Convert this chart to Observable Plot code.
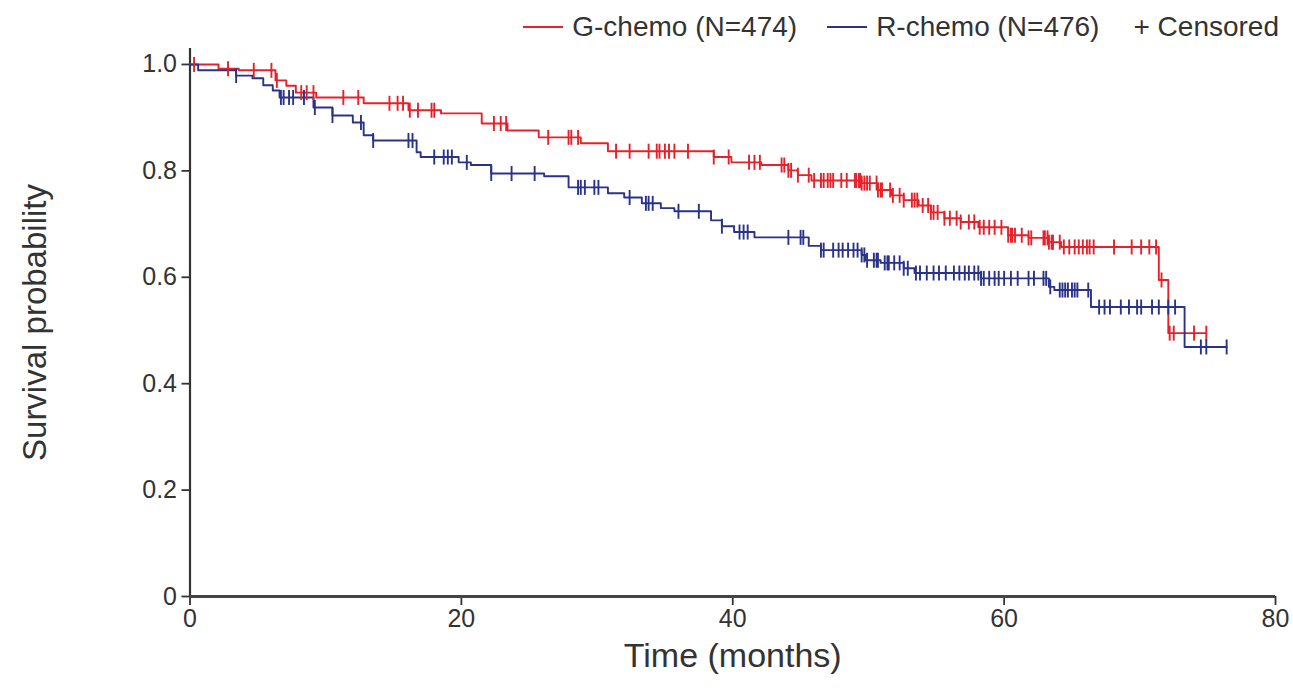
<!DOCTYPE html>
<html><head><meta charset="utf-8">
<script src="https://cdn.jsdelivr.net/npm/d3@7"></script>
<script src="https://cdn.jsdelivr.net/npm/@observablehq/plot@0.6"></script>
<style>
body{margin:0;background:#fff;font-family:"Liberation Sans",Arial,sans-serif;color:#333;}
#legend{height:45px;box-sizing:border-box;padding-top:8px;padding-right:14px;display:flex;justify-content:flex-end;align-items:center;font-size:28px;color:#333;white-space:nowrap;}
#legend .sw{display:inline-block;width:40px;height:2px;margin-right:9px;vertical-align:middle;}
#legend .item{margin-left:30px;display:flex;align-items:center;}
</style></head><body>
<div id="legend"></div>
<div id="chart"></div>
<script>
// G-chemo (red) Kaplan-Meier steps
const gStepT = [0, 2.1, 3.6, 6.3, 7.1, 7.8, 9.3, 12.8, 16.1, 18.5, 21.5, 23.4, 25.7, 28.8, 30.8, 38.6, 39.9, 42.1, 44.1, 44.8, 45.8, 49.5, 50.7, 51.7, 52.6, 53.7, 54.6, 55.6, 56.8, 58.1, 60.3, 61.8, 63.3, 64.2, 71.4, 72.1, 74.9];
const gStepS = [1.0, 0.992, 0.989, 0.970, 0.960, 0.947, 0.938, 0.927, 0.914, 0.908, 0.889, 0.876, 0.863, 0.852, 0.837, 0.826, 0.816, 0.811, 0.801, 0.792, 0.782, 0.777, 0.764, 0.754, 0.745, 0.735, 0.722, 0.711, 0.704, 0.694, 0.679, 0.674, 0.666, 0.657, 0.595, 0.495, 0.495];
const gCensor = [0.3, 2.8, 4.7, 6.0, 6.4, 8.2, 8.6, 9.1, 11.3, 12.4, 14.7, 15.3, 15.7, 16.2, 16.8, 17.8, 18.0, 22.4, 22.9, 23.3, 26.4, 27.9, 28.1, 28.6, 31.4, 32.4, 33.8, 34.4, 34.6, 35.0, 35.3, 35.7, 36.7, 38.6, 39.7, 41.2, 41.6, 42.0, 43.6, 43.8, 44.1, 44.3, 44.8, 45.6, 46.0, 46.5, 46.7, 47.0, 47.2, 47.4, 48.0, 48.4, 49.0, 49.1, 49.3, 49.4, 49.5, 49.7, 49.9, 50.1, 50.6, 50.7, 50.9, 51.0, 51.6, 51.8, 52.3, 52.6, 53.2, 53.4, 53.6, 54.0, 54.4, 54.6, 54.8, 55.1, 55.6, 56.0, 56.5, 56.8, 57.4, 57.8, 58.2, 58.5, 58.9, 59.3, 59.8, 60.3, 60.5, 60.6, 60.8, 61.3, 61.8, 62.0, 62.9, 63.0, 63.2, 63.3, 63.5, 63.6, 64.1, 64.4, 64.8, 65.2, 65.5, 65.8, 66.1, 66.3, 66.6, 68.1, 69.4, 70.1, 70.7, 71.2, 71.6, 72.2, 72.5, 74.0, 74.9];
// R-chemo (blue) Kaplan-Meier steps
const bStepT = [0, 0.6, 3.4, 4.6, 5.4, 6.1, 6.6, 9.1, 10.5, 12.0, 12.8, 13.5, 16.7, 17.0, 19.8, 20.7, 22.2, 26.1, 27.9, 30.8, 32.0, 33.3, 34.7, 35.7, 38.4, 39.2, 40.1, 41.6, 45.6, 46.5, 49.5, 49.8, 50.9, 52.6, 53.4, 58.3, 63.3, 63.7, 66.4, 73.3, 76.4];
const bStepS = [1.0, 0.989, 0.979, 0.974, 0.961, 0.951, 0.938, 0.919, 0.904, 0.891, 0.867, 0.857, 0.835, 0.826, 0.816, 0.811, 0.795, 0.790, 0.769, 0.758, 0.750, 0.739, 0.730, 0.724, 0.707, 0.696, 0.685, 0.675, 0.659, 0.651, 0.642, 0.632, 0.627, 0.617, 0.608, 0.598, 0.582, 0.576, 0.544, 0.469, 0.469];
const bCensor = [3.4, 6.7, 6.9, 7.3, 7.6, 8.4, 9.2, 10.5, 12.6, 13.5, 16.1, 16.4, 18.0, 18.7, 19.0, 19.3, 20.4, 22.2, 23.7, 25.4, 28.6, 28.8, 29.1, 29.8, 30.1, 32.4, 33.6, 33.8, 34.1, 36.0, 37.5, 39.2, 40.5, 40.8, 41.1, 44.1, 45.0, 45.2, 46.5, 46.7, 47.4, 47.8, 48.1, 48.5, 48.9, 49.2, 49.5, 49.7, 49.9, 50.4, 50.6, 50.7, 51.2, 51.4, 51.5, 51.9, 52.3, 52.6, 52.9, 53.5, 53.8, 54.3, 54.8, 55.2, 55.7, 56.3, 56.7, 57.1, 57.4, 57.8, 58.1, 58.3, 58.5, 58.9, 59.3, 59.6, 60.0, 60.5, 61.0, 61.8, 62.2, 62.9, 63.1, 63.4, 64.1, 64.3, 64.5, 64.7, 65.0, 65.2, 65.4, 66.2, 67.0, 67.4, 67.8, 68.6, 69.2, 69.8, 70.1, 70.9, 71.4, 72.1, 72.6, 74.5, 74.9, 76.4];

const groups = ["G-chemo (N=474)", "R-chemo (N=476)"];
const colors = ["#e3222b", "#2a3388"];
const xTicks = [0, 20, 40, 60, 80];
const yTicks = [0, 0.2, 0.4, 0.6, 0.8, 1.0];

function survAt(T, S, t) {
  let s = S[0];
  for (let i = 0; i < T.length; i++) { if (T[i] <= t) s = S[i]; else break; }
  return s;
}
const steps = [
  ...gStepT.map((t, i) => ({group: groups[0], t, s: gStepS[i]})),
  ...bStepT.map((t, i) => ({group: groups[1], t, s: bStepS[i]}))
];
const censors = [
  ...gCensor.map(t => ({group: groups[0], t, s: survAt(gStepT, gStepS, t)})),
  ...bCensor.map(t => ({group: groups[1], t, s: survAt(bStepT, bStepS, t)}))
];

const vtick = {draw(ctx, size) { const h = Math.sqrt(size / Math.PI); ctx.moveTo(0, -h); ctx.lineTo(0, h); }};

// legend
const leg = document.getElementById("legend");
groups.forEach((g, i) => {
  const it = document.createElement("span"); it.className = "item";
  const sw = document.createElement("span"); sw.className = "sw"; sw.style.background = colors[i];
  it.appendChild(sw); it.appendChild(document.createTextNode(g)); leg.appendChild(it);
});
const cz = document.createElement("span"); cz.className = "item"; cz.style.marginLeft = "34px";
cz.textContent = "+ Censored"; leg.appendChild(cz);

const chart = Plot.plot({
  width: 1293, height: 648,
  marginLeft: 189.5, marginRight: 18, marginTop: 3, marginBottom: 97,
  style: {fontFamily: "'Liberation Sans', Arial, sans-serif", color: "#333", background: "#fff"},
  x: {domain: [0, 80]},
  y: {domain: [0, 1.03]},
  color: {domain: groups, range: colors},
  marks: [
    Plot.axisX({ticks: xTicks, tickSize: 9, tickPadding: 4, fontSize: 25, label: null, stroke: "#333", strokeWidth: 1.8}),
    Plot.axisY({ticks: yTicks, tickSize: 8, tickPadding: 5, fontSize: 25, label: null, stroke: "#333", strokeWidth: 1.8,
      tickFormat: d => d === 0 ? "0" : d.toFixed(1)}),
    Plot.ruleX([0], {stroke: "#333", strokeWidth: 2.2}),
    Plot.ruleY([0], {stroke: "#444", strokeWidth: 2.8}),
    Plot.line(steps, {x: "t", y: "s", z: "group", stroke: "group", curve: "step-after", strokeWidth: 1.9}),
    Plot.dot(censors, {x: "t", y: "s", stroke: "group", symbol: vtick, r: 7.5, strokeWidth: 1.9}),
    Plot.text(["Time (months)"], {frameAnchor: "bottom", dy: 70, fontSize: 34, fill: "#333"}),
    Plot.text(["Survival probability"], {frameAnchor: "left", textAnchor: "middle", dx: -155, rotate: -90, fontSize: 33, fill: "#333"})
  ]
});
document.getElementById("chart").appendChild(chart);
</script>
</body></html>
